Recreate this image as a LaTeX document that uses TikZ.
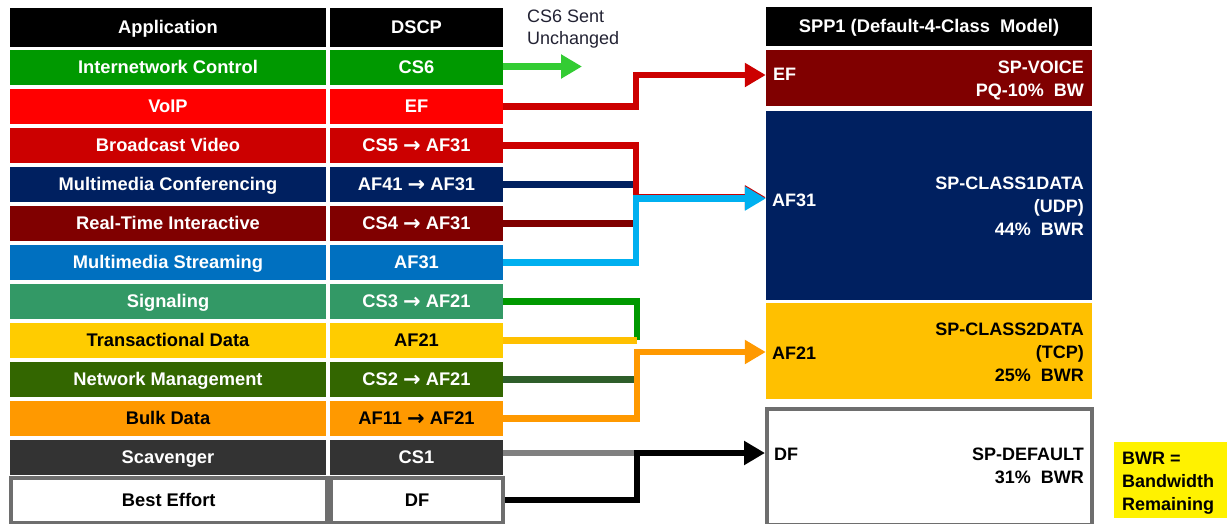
\documentclass[tikz,border=0pt]{standalone}
\usepackage{fontspec}
\setmainfont{Liberation Sans}
\newfontfamily\arrfont{DejaVu Sans}
\usetikzlibrary{arrows.meta}
\definecolor{cIC}{HTML}{009900}
\definecolor{cVoIP}{HTML}{FF0000}
\definecolor{cBV}{HTML}{CC0000}
\definecolor{cNavy}{HTML}{002060}
\definecolor{cMaroon}{HTML}{800000}
\definecolor{cMS}{HTML}{0070C0}
\definecolor{cSig}{HTML}{339966}
\definecolor{cTD}{HTML}{FFCC00}
\definecolor{cNM}{HTML}{336600}
\definecolor{cBulk}{HTML}{FF9900}
\definecolor{cScav}{HTML}{333333}
\definecolor{cBE}{HTML}{6E6E6E}
\definecolor{cAF21}{HTML}{FFC000}
\definecolor{cLime}{HTML}{33CC33}
\definecolor{cLB}{HTML}{00B0F0}
\definecolor{cLGreen}{HTML}{009900}
\definecolor{cLTD}{HTML}{FFC000}
\definecolor{cLNM}{HTML}{2E5E2A}
\definecolor{cLOr}{HTML}{FF9900}
\definecolor{cLGray}{HTML}{808080}
\definecolor{cNote}{HTML}{222233}
\newcommand\rarr{{\arrfont\bfseries\fontsize{21}{21}\selectfont\raisebox{-0.03em}{→}}}
\tikzset{
  cell/.style={inner sep=0pt, minimum height=35.5pt, text height=12.9pt, text depth=0pt,
    font=\bfseries\fontsize{18.3}{22.75}\selectfont, text=white},
  appcell/.style={cell, minimum width=316pt},
  dscpcell/.style={cell, minimum width=173pt},
  boxtxt/.style={inner sep=0pt, font=\bfseries\fontsize{18}{22.75}\selectfont},
  conn/.style={line width=6.5pt},
  tipped/.style={-{Triangle[length=21pt,width=23pt]}}
}
\begin{document}
\begin{tikzpicture}[x=1pt,y=-1pt]
\useasboundingbox (0,0) rectangle (1227,523);

% headers
\node[cell, fill=black, minimum width=316pt, minimum height=39pt] (ha) at (168,27.5) {Application};
\node[cell, fill=black, minimum width=173pt, minimum height=39pt] (hd) at (416.5,27.5) {DSCP};

% rows
\foreach \i/\app/\ds/\col/\tc in {
  1/Internetwork Control/CS6/cIC/white,
  2/VoIP/EF/cVoIP/white,
  3/Broadcast Video/CS5 \rarr{} AF31/cBV/white,
  4/Multimedia Conferencing/AF41 \rarr{} AF31/cNavy/white,
  5/Real-Time Interactive/CS4 \rarr{} AF31/cMaroon/white,
  6/Multimedia Streaming/AF31/cMS/white,
  7/Signaling/CS3 \rarr{} AF21/cSig/white,
  8/Transactional Data/AF21/cTD/black,
  9/Network Management/CS2 \rarr{} AF21/cNM/white,
  10/Bulk Data/AF11 \rarr{} AF21/cBulk/black,
  11/Scavenger/CS1/cScav/white}{
  \node[appcell, fill=\col, text=\tc] (a\i) at (168,{67.25+(\i-1)*39}) {\app};
  \node[dscpcell, fill=\col, text=\tc] (d\i) at (416.5,{67.25+(\i-1)*39}) {\ds};
}

% best effort row
\node[fill=cBE, inner sep=0pt, minimum width=496pt, minimum height=48pt] (be) at (257,500) {};
\node[cell, fill=white, text=black, minimum width=311.5pt, minimum height=40.5pt] (a12) at (168.75,500.25) {Best Effort};
\node[cell, fill=white, text=black, minimum width=168pt, minimum height=40.5pt] (d12) at (417,500.25) {DF};

% CS6 note
\node[inner sep=0pt, anchor=north west, align=left, text=cNote, font=\fontsize{18}{22}\selectfont] (cs6note) at (527,9.5) {CS6 Sent\\Unchanged};

% right side
\node[cell, fill=black, minimum width=326pt, minimum height=39pt] (hs) at (929,26.5) {SPP1 (Default-4-Class\ \ Model)};
\node[fill=cMaroon, inner sep=0pt, minimum width=326pt, minimum height=56pt] (ef) at (929,78) {};
\node[fill=cNavy, inner sep=0pt, minimum width=326pt, minimum height=189pt] (af31) at (929,205.5) {};
\node[fill=cAF21, inner sep=0pt, minimum width=326pt, minimum height=96pt] (af21) at (929,351) {};
\node[draw=cBE, line width=4pt, fill=white, inner sep=0pt, minimum width=325pt, minimum height=116pt] (df) at (929.5,467) {};

\node[boxtxt, text=white, anchor=base west] (efl) at (773,80.5) {EF};
\node[boxtxt, text=white, anchor=north east, align=right] (eft) at (1084,61) {SP-VOICE\\PQ-10\%\ \ BW};
\node[boxtxt, text=white, anchor=base west] (af31l) at (772,206) {AF31};
\node[boxtxt, text=white, anchor=north east, align=right] (af31t) at (1084,177) {SP-CLASS1DATA\\(UDP)\\44\%\ \ BWR};
\node[boxtxt, text=black, anchor=base west] (af21l) at (772,359.3) {AF21};
\node[boxtxt, text=black, anchor=north east, align=right] (af21t) at (1084,323) {SP-CLASS2DATA\\(TCP)\\25\%\ \ BWR};
\node[boxtxt, text=black, anchor=base west] (dfl) at (774,460.7) {DF};
\node[boxtxt, text=black, anchor=north east, align=right] (dft) at (1084,447.7) {SP-DEFAULT\\31\%\ \ BWR};

\node[fill=yellow, inner sep=0pt, minimum width=113pt, minimum height=76pt] (bwr) at (1170.5,480) {};
\node[boxtxt, text=black, anchor=north west, align=left] (bwrt) at (1122,452) {BWR =\\Bandwidth\\Remaining};

% junctions
\coordinate (cs6e) at (582,66.5);
\coordinate (jEF) at (636,75);
\coordinate (jR) at (636,197.3);
\coordinate (jB) at (636,198.5);
\coordinate (jO) at (637,352);
\coordinate (jK) at (637,453);

% connectors
\draw[conn, cLime, tipped] (d1.east |- cs6e) -- (cs6e);
\draw[conn, cBV, tipped] (d2.east) -| (jEF) -- (jEF -| ef.west);

\draw[conn, cNavy] (d4.east) -- (d4.east -| jB);
\draw[conn, cMaroon] (d5.east) -- (d5.east -| jB);
\draw[conn, cBV, tipped] (d3.east) -| (jR) -- (jR -| af31.west);
\draw[conn, cLB, tipped] (d6.east) -| (jB) -- (jB -| af31.west);

\draw[conn, cLGreen] (d7.east) -| (d8.east -| jO);
\draw[conn, cLTD] (d8.east) -- (d8.east -| jO);
\draw[conn, cLNM] (d9.east) -- (d9.east -| jO);
\draw[conn, cLOr, tipped] (d10.east) -| (jO) -- (jO -| af21.west);

\draw[conn, cLGray] (d11.east |- jK) -- (jK);
\draw[conn, black, tipped] (be.east) -| (jK) -- (jK -| df.west);
\end{tikzpicture}
\end{document}
